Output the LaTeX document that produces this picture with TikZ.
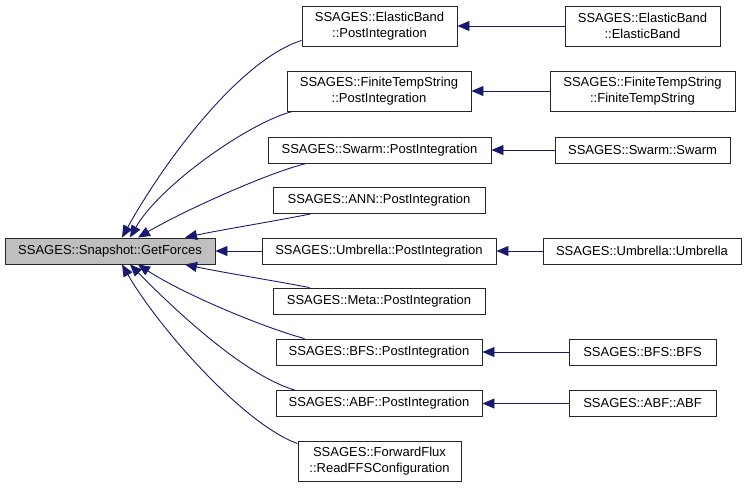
\documentclass[tikz,border=0pt]{standalone}
\usepackage{fontspec}
\setmainfont{Liberation Sans}
\usetikzlibrary{arrows.meta}
\definecolor{edgeblue}{RGB}{25,25,112}
\definecolor{rootgray}{RGB}{191,191,191}
\tikzset{
  box/.style={draw=black!85, line width=0.9pt, fill=white, inner sep=0pt, align=center,
    font=\fontsize{13}{15.6}\selectfont},
  rootbox/.style={box, fill=rootgray},
  link/.style={draw=edgeblue, line width=0.9pt, -{Triangle[length=12pt,width=10pt]}},
}
\begin{document}
\begin{tikzpicture}[x=1pt,y=-1pt]
\useasboundingbox (0,0) rectangle (747,488);
% root
\node[rootbox, minimum width=210pt, minimum height=26pt] (root) at (110,251) {SSAGES::Snapshot::GetForces};
% middle column
\node[box, minimum width=155pt, minimum height=40pt] (ebp) at (379.5,26) {SSAGES::ElasticBand\\::PostIntegration};
\node[box, minimum width=184pt, minimum height=40pt] (ftsp) at (379,91) {SSAGES::FiniteTempString\\::PostIntegration};
\node[box, minimum width=223pt, minimum height=26pt] (swp) at (379.5,150) {SSAGES::Swarm::PostIntegration};
\node[box, minimum width=212pt, minimum height=26pt] (annp) at (379,200.5) {SSAGES::ANN::PostIntegration};
\node[box, minimum width=234pt, minimum height=26pt] (ump) at (379,251) {SSAGES::Umbrella::PostIntegration};
\node[box, minimum width=212pt, minimum height=26pt] (metap) at (379,301) {SSAGES::Meta::PostIntegration};
\node[box, minimum width=206pt, minimum height=26pt] (bfsp) at (379,352) {SSAGES::BFS::PostIntegration};
\node[box, minimum width=206pt, minimum height=26pt] (abfp) at (379,403.5) {SSAGES::ABF::PostIntegration};
\node[box, minimum width=163pt, minimum height=40pt] (ffs) at (379.5,461) {SSAGES::ForwardFlux\\::ReadFFSConfiguration};
% right column
\node[box, minimum width=155pt, minimum height=40pt] (ebe) at (642.5,26) {SSAGES::ElasticBand\\::ElasticBand};
\node[box, minimum width=185pt, minimum height=40pt] (ftsf) at (642.5,91) {SSAGES::FiniteTempString\\::FiniteTempString};
\node[box, minimum width=175pt, minimum height=26pt] (sws) at (642.5,150) {SSAGES::Swarm::Swarm};
\node[box, minimum width=198pt, minimum height=26pt] (umu) at (642,251) {SSAGES::Umbrella::Umbrella};
\node[box, minimum width=147pt, minimum height=26pt] (bfsb) at (642.5,352) {SSAGES::BFS::BFS};
\node[box, minimum width=147pt, minimum height=26pt] (abfa) at (642.5,403.5) {SSAGES::ABF::ABF};
% edges to root
\draw[link] ([yshift=6pt]ebp.south west) .. controls (240,60) and (165,160) .. ([xshift=12pt]root.north);
\draw[link] ([xshift=6pt]ftsp.south west) .. controls (250,122) and (160,185) .. ([xshift=20pt]root.north);
\draw[link] ([xshift=39pt]swp.south west) .. controls (270,172) and (185,210) .. ([xshift=28pt]root.north);
\draw[link] ([xshift=38pt]annp.south west) .. controls (270,222) and (220,230) .. ([xshift=75pt]root.north);
\draw[link] (ump.west) -- (root.east);
\draw[link] ([xshift=37pt]metap.north west) .. controls (270,280) and (220,272) .. ([xshift=75pt]root.south);
\draw[link] ([xshift=29pt]bfsp.north west) .. controls (265,328) and (185,295) .. ([xshift=28pt]root.south);
\draw[link] ([xshift=19pt]abfp.north west) .. controls (245,375) and (180,315) .. ([xshift=20pt]root.south);
\draw[link] ([yshift=-3pt]ffs.north west) .. controls (245,425) and (160,330) .. ([xshift=12pt]root.south);
% right edges
\draw[link] (ebe.west) -- (ebp.east);
\draw[link] (ftsf.west) -- (ftsp.east);
\draw[link] (sws.west) -- (swp.east);
\draw[link] (umu.west) -- (ump.east);
\draw[link] (bfsb.west) -- (bfsp.east);
\draw[link] (abfa.west) -- (abfp.east);
\end{tikzpicture}
\end{document}
